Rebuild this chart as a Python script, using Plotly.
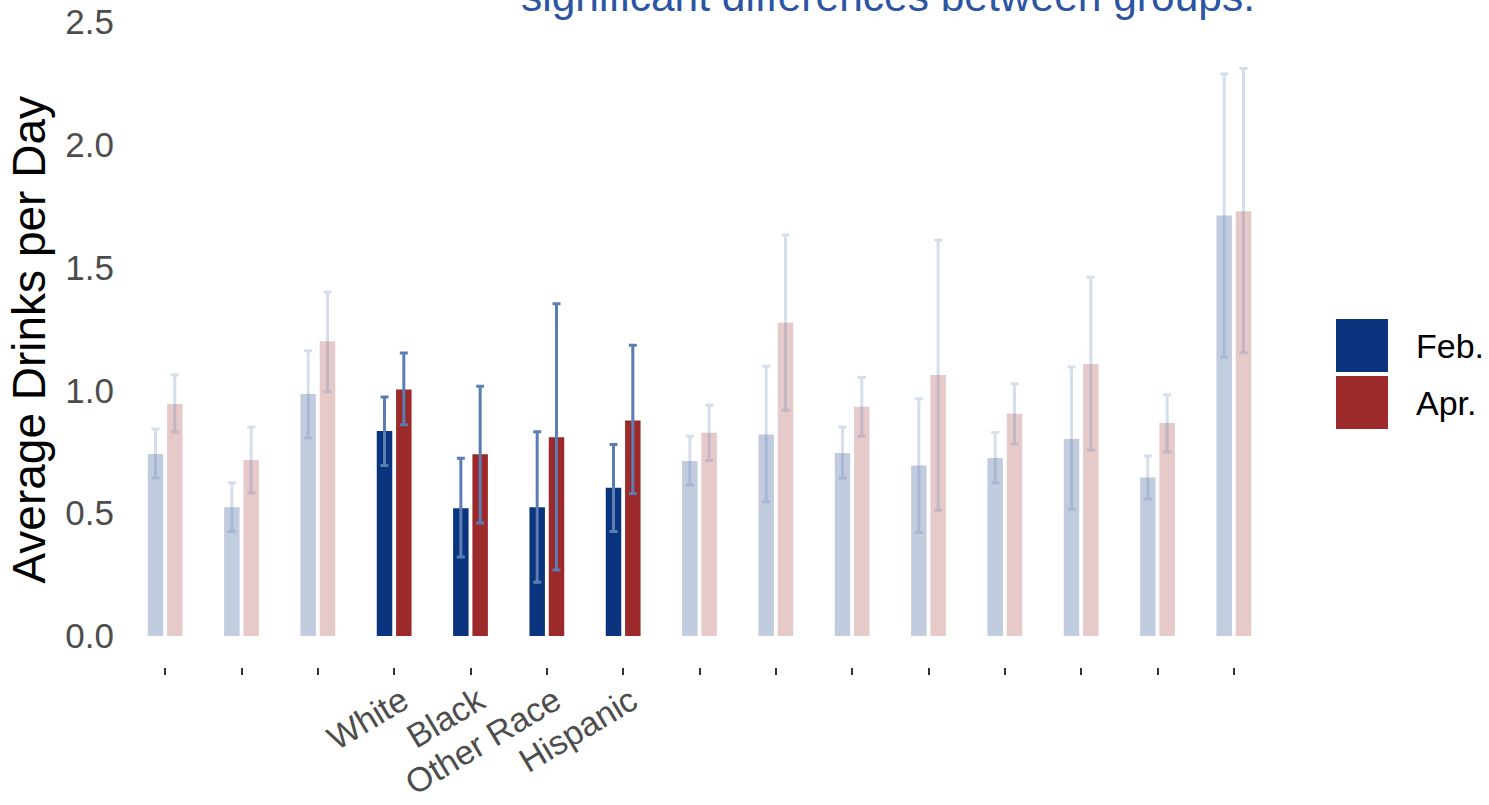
import numpy as np
import plotly.graph_objects as go

# Average drinks per day by group, February vs. April, with interval bounds
group_pos = list(range(15))
tick_text = ["", "", "", "White", "Black", "Other Race", "Hispanic",
             "", "", "", "", "", "", "", ""]
highlight = [False, False, False, True, True, True, True,
             False, False, False, False, False, False, False, False]

feb = [0.741, 0.524, 0.985, 0.835, 0.520, 0.524, 0.604, 0.713, 0.821, 0.745, 0.694, 0.725, 0.802, 0.646, 1.712]
feb_hi = [0.843, 0.624, 1.162, 0.973, 0.724, 0.832, 0.780, 0.813, 1.098, 0.851, 0.966, 0.829, 1.095, 0.733, 2.288]
feb_lo = [0.643, 0.426, 0.806, 0.694, 0.322, 0.219, 0.426, 0.615, 0.547, 0.643, 0.422, 0.624, 0.516, 0.558, 1.136]

apr = [0.945, 0.717, 1.200, 1.004, 0.740, 0.809, 0.878, 0.828, 1.276, 0.934, 1.063, 0.905, 1.108, 0.867, 1.730]
apr_hi = [1.063, 0.851, 1.400, 1.152, 1.017, 1.353, 1.184, 0.941, 1.633, 1.053, 1.612, 1.027, 1.462, 0.982, 2.311]
apr_lo = [0.831, 0.582, 0.995, 0.860, 0.460, 0.269, 0.580, 0.715, 0.919, 0.813, 0.512, 0.782, 0.757, 0.749, 1.153]

series_names = ["Feb.", "Apr."]
y_ticks = [0.0, 0.5, 1.0, 1.5, 2.0, 2.5]
title_text = "significant differences between groups."

FONT = "Liberation Sans, Arial, sans-serif"
BLUE = (10, 52, 126)
RED = (156, 42, 42)
ERR = (91, 125, 177)
FADE = 0.25
BAR_W = 0.203
OFFSETS = [-0.228, 0.025]


def rgba(c, a):
    return f"rgba({c[0]},{c[1]},{c[2]},{a})"


fig = go.Figure()

series = [
    (series_names[0], feb, feb_hi, feb_lo, BLUE, OFFSETS[0]),
    (series_names[1], apr, apr_hi, apr_lo, RED, OFFSETS[1]),
]

for strong in (False, True):
    alpha = 1.0 if strong else FADE
    for name, vals, hi, lo, col, off in series:
        idx = [i for i, h in enumerate(highlight) if h == strong]
        v = np.array(vals)[idx]
        up = np.array(hi)[idx] - v
        dn = v - np.array(lo)[idx]
        fig.add_trace(go.Bar(
            x=np.array(group_pos)[idx],
            y=v,
            name=name,
            width=BAR_W,
            offset=off,
            marker=dict(color=rgba(col, alpha), line=dict(width=0)),
            error_y=dict(type="data", symmetric=False, array=up, arrayminus=dn,
                         color=rgba(ERR, alpha), thickness=3, width=4),
            showlegend=False,
            hoverinfo="x+y",
        ))

fig.update_layout(
    width=1489, height=805,
    barmode="overlay",
    plot_bgcolor="white", paper_bgcolor="white",
    margin=dict(l=127, r=217, t=22, b=138, autoexpand=False),
    font=dict(family=FONT),
    xaxis=dict(
        range=[-0.5, 14.5],
        tickmode="array", tickvals=group_pos, ticktext=tick_text,
        tickangle=-31,
        ticks="outside", ticklen=7, tickwidth=2, tickcolor="#333333",
        ticklabelshift=8, ticklabelstandoff=-7,
        tickfont=dict(size=34, color="#4d4d4d", family=FONT),
        showgrid=False, zeroline=False, showline=False,
    ),
    yaxis=dict(
        range=[-0.126, 2.5],
        tickmode="array", tickvals=y_ticks,
        ticktext=[f"{t:.1f}" for t in y_ticks],
        ticks="", ticklabelstandoff=12,
        tickfont=dict(size=35, color="#4d4d4d", family=FONT),
        showgrid=False, zeroline=False, showline=False,
    ),
)

# y-axis title
fig.add_annotation(
    text="Average Drinks per Day", textangle=-90,
    xref="paper", yref="paper", x=0, y=0.5,
    xanchor="center", yanchor="middle", xshift=-99, yshift=4,
    showarrow=False, font=dict(size=46, color="black", family=FONT),
)

# title line
fig.add_annotation(
    text=title_text, xref="paper", yref="paper",
    x=(887.5 - 127) / 1145, y=1, xanchor="center", yanchor="bottom",
    showarrow=False, font=dict(size=42.5, color="#2b55a3", family=FONT),
)

# legend keys
legend_cols = [BLUE, RED]
key_tops = [319, 376]
for name, col, top in zip(series_names, legend_cols, key_tops):
    fig.add_shape(
        type="rect", xref="paper", yref="paper",
        x0=(1336 - 127) / 1145, x1=(1388 - 127) / 1145,
        y0=(667 - (top + 53)) / 645, y1=(667 - top) / 645,
        fillcolor=rgba(col, 1), line=dict(width=0),
    )
    fig.add_annotation(
        text=name, xref="paper", yref="paper",
        x=(1414 - 127) / 1145, y=(667 - (top + 26.5)) / 645,
        xanchor="left", yanchor="middle", showarrow=False,
        font=dict(size=34, color="black", family=FONT),
    )

fig.write_html("out.html")
